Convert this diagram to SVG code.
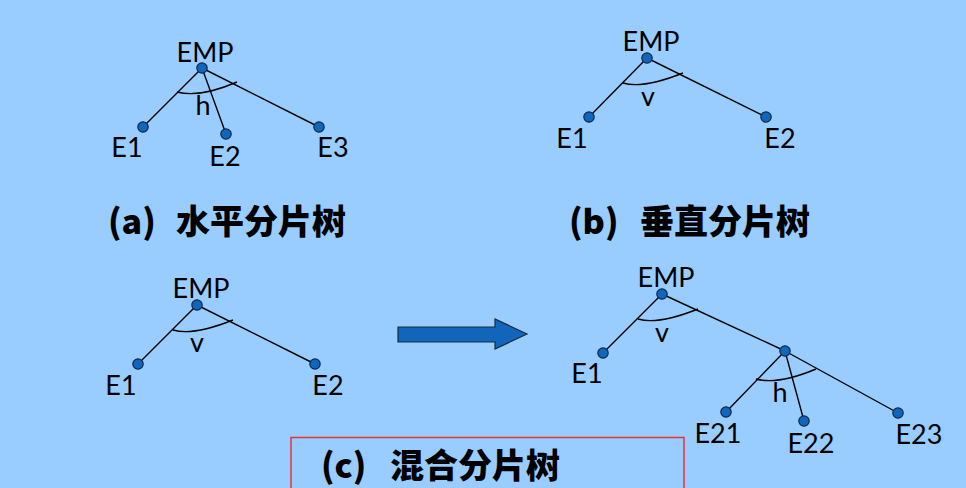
<svg xmlns="http://www.w3.org/2000/svg" width="966" height="488" viewBox="0 0 966 488">
<style>
.lbl{font-family:Lato,"Noto Sans","Liberation Sans",sans-serif;font-size:27px;fill:#000;text-anchor:middle}
.cap{font-family:"Noto Sans CJK SC","Noto Sans",sans-serif;font-size:34px;font-weight:900;fill:#000}
.ln{stroke:#000;stroke-width:1.4;fill:none}
.arc{stroke:#000;stroke-width:1.4;fill:none}
.dot{fill:#1166BB;stroke:#0d2a48;stroke-width:1.2}
</style>
<rect x="0" y="0" width="966" height="488" fill="#99CCFF"/>

<g id="connectors">
  <!-- (a) -->
  <line class="ln" x1="202" y1="68" x2="143" y2="127"/>
  <line class="ln" x1="202" y1="68" x2="226" y2="134"/>
  <line class="ln" x1="202" y1="68" x2="319" y2="127"/>
  <path class="arc" d="M177,92 Q200,98 237,82"/>
  <!-- (b) -->
  <line class="ln" x1="647" y1="58" x2="589" y2="117"/>
  <line class="ln" x1="647" y1="58" x2="766" y2="117"/>
  <path class="arc" d="M623,83 Q643,89 683,73"/>
  <!-- (c) left -->
  <line class="ln" x1="197" y1="305" x2="138" y2="364"/>
  <line class="ln" x1="197" y1="305" x2="315" y2="364"/>
  <path class="arc" d="M173,330 Q193,336 233,320"/>
  <!-- (c) right -->
  <line class="ln" x1="662" y1="294" x2="603" y2="353"/>
  <line class="ln" x1="662" y1="294" x2="785" y2="351"/>
  <path class="arc" d="M638,319 Q658,325 698,309"/>
  <line class="ln" x1="785" y1="351" x2="726" y2="412"/>
  <line class="ln" x1="785" y1="351" x2="804" y2="421"/>
  <line class="ln" x1="785" y1="351" x2="898" y2="413"/>
  <path class="arc" d="M756,379 Q778,385 816,369"/>
</g>

<!-- (a) horizontal -->
<g id="a-EMP"><circle class="dot" cx="202" cy="68" r="5.2"/><text class="lbl" x="205" y="62">EMP</text></g>
<g id="a-E1"><circle class="dot" cx="143" cy="127" r="5.2"/><text class="lbl" x="127" y="157">E1</text></g>
<g id="a-E2"><circle class="dot" cx="226" cy="134" r="5.2"/><text class="lbl" x="225" y="166">E2</text></g>
<g id="a-E3"><circle class="dot" cx="319" cy="127" r="5.2"/><text class="lbl" x="333" y="157">E3</text></g>
<g id="a-h"><text class="lbl" x="203" y="115">h</text></g>
<g id="a-caption"><text class="cap" y="234"><tspan x="108">(a)</tspan><tspan x="176">水平分片树</tspan></text></g>

<!-- (b) vertical -->
<g id="b-EMP"><circle class="dot" cx="647" cy="58" r="5.2"/><text class="lbl" x="651" y="51">EMP</text></g>
<g id="b-E1"><circle class="dot" cx="589" cy="117" r="5.2"/><text class="lbl" x="572" y="148">E1</text></g>
<g id="b-E2"><circle class="dot" cx="766" cy="117" r="5.2"/><text class="lbl" x="780" y="148">E2</text></g>
<g id="b-v"><text class="lbl" x="648" y="106">v</text></g>
<g id="b-caption"><text class="cap" y="234"><tspan x="569">(b)</tspan><tspan x="640">垂直分片树</tspan></text></g>

<!-- (c) left -->
<g id="c1-EMP"><circle class="dot" cx="197" cy="305" r="5.2"/><text class="lbl" x="201" y="298">EMP</text></g>
<g id="c1-E1"><circle class="dot" cx="138" cy="364" r="5.2"/><text class="lbl" x="121" y="395">E1</text></g>
<g id="c1-E2"><circle class="dot" cx="315" cy="364" r="5.2"/><text class="lbl" x="328" y="395">E2</text></g>
<g id="c1-v"><text class="lbl" x="197" y="352">v</text></g>

<!-- arrow -->
<g id="arrow"><path d="M398,327 L495,327 L495,319 L527,334 L495,349 L495,342 L398,342 Z" fill="#1166BB" stroke="#1a2a3a" stroke-width="1.2"/></g>

<!-- (c) right -->
<g id="c2-EMP"><circle class="dot" cx="662" cy="294" r="5.2"/><text class="lbl" x="666" y="287">EMP</text></g>
<g id="c2-E1"><circle class="dot" cx="603" cy="353" r="5.2"/><text class="lbl" x="587" y="383">E1</text></g>
<g id="c2-mid"><circle class="dot" cx="785" cy="351" r="5.2"/></g>
<g id="c2-E21"><circle class="dot" cx="726" cy="412" r="5.2"/><text class="lbl" x="718" y="443">E21</text></g>
<g id="c2-E22"><circle class="dot" cx="804" cy="421" r="5.2"/><text class="lbl" x="811" y="453">E22</text></g>
<g id="c2-E23"><circle class="dot" cx="898" cy="413" r="5.2"/><text class="lbl" x="919" y="444">E23</text></g>
<g id="c2-v"><text class="lbl" x="662" y="342">v</text></g>
<g id="c2-h"><text class="lbl" x="780" y="402">h</text></g>

<g id="c-caption">
  <rect x="291" y="437.5" width="393" height="60" fill="none" stroke="#E8303A" stroke-width="1.5"/>
  <text class="cap" y="478"><tspan x="321">(c)</tspan><tspan x="390">混合分片树</tspan></text>
</g>
</svg>
